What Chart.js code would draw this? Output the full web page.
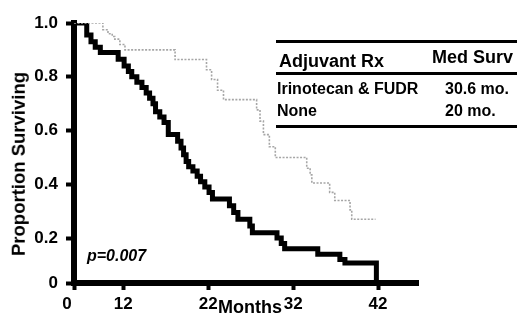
<!DOCTYPE html>
<html>
<head>
<meta charset="utf-8">
<title>Survival by adjuvant therapy</title>
<script src="https://cdn.jsdelivr.net/npm/chart.js@4.4.0/dist/chart.umd.min.js"></script>
<style>
    body { margin: 0; background: #fff; }
    #wrap { position: relative; width: 517px; height: 324px; font-family: Arial, "Liberation Sans", sans-serif; font-weight: bold; color: #000; }
    #survChart { position: absolute; left: 0; top: 0; }
    .rule { position: absolute; left: 276px; width: 241px; height: 3px; background: #000; }
    .txt { position: absolute; white-space: nowrap; line-height: 1; }
    #yTitle { left: 18.5px; top: 164px; font-size: 18.5px; transform: translate(-50%, -50%) rotate(-90deg); }
</style>
</head>
<body>
<div id="wrap">
    <canvas id="survChart" width="517" height="324"></canvas>

    <div class="rule" style="top: 40px;"></div>
    <div class="txt" style="left: 279px; top: 52px; font-size: 18px;">Adjuvant Rx</div>
    <div class="txt" style="left: 432px; top: 48px; font-size: 18px;">Med Surv</div>
    <div class="rule" style="top: 72px;"></div>
    <div class="txt" style="left: 277px; top: 81px; font-size: 16px;">Irinotecan &amp; FUDR</div>
    <div class="txt" style="left: 445px; top: 81px; font-size: 16px;">30.6 mo.</div>
    <div class="txt" style="left: 277px; top: 103px; font-size: 16px;">None</div>
    <div class="txt" style="left: 445px; top: 103px; font-size: 16px;">20 mo.</div>
    <div class="rule" style="top: 125px;"></div>

    <div class="txt" style="left: 87px; top: 248px; font-size: 16px; font-style: italic;">p=0.007</div>

    <!-- axis titles sit off-centre in the figure, so they are placed by hand -->
    <div class="txt" id="yTitle">Proportion Surviving</div>
    <div class="txt" style="left: 218px; top: 298px; font-size: 18px;">Months</div>
</div>

<script>
// --- Axis ticks (the origin is labelled 0 in the figure) ---
const xTickValues = [6.2, 12, 22, 32, 42];
const xTickLabels = ['0', '12', '22', '32', '42'];
const yTickValues = [0.033, 0.2, 0.4, 0.6, 0.8, 1.0];
const yTickLabels = ['0', '0.2', '0.4', '0.6', '0.8', '1.0'];

// --- Irinotecan & FUDR (grey dotted curve) ---
const rxMonths = [6.2, 9.6, 10.2, 10.7, 11.0, 11.6, 12.2, 18.1, 21.8, 22.4, 23.1, 23.8, 27.7, 28.1, 28.5, 29.2, 29.9, 33.6, 34.0, 34.2, 36.3, 36.9, 38.7, 38.9, 41.7];
const rxSurv = [1.0, 0.975, 0.96, 0.95, 0.94, 0.92, 0.90, 0.864, 0.826, 0.79, 0.75, 0.715, 0.677, 0.635, 0.585, 0.54, 0.50, 0.46, 0.435, 0.405, 0.37, 0.34, 0.305, 0.27, 0.27];

// --- No adjuvant therapy (black curve) ---
const noneMonths = [6.2, 7.7, 8.2, 8.7, 9.3, 11.4, 12.1, 12.6, 13.0, 13.6, 14.2, 14.7, 15.1, 15.5, 15.8, 16.3, 16.8, 17.3, 18.4, 18.8, 19.1, 19.4, 19.7, 20.2, 20.7, 21.1, 21.6, 22.1, 22.5, 24.5, 25.0, 25.5, 26.9, 27.2, 30.1, 30.6, 31.0, 34.9, 37.5, 38.1, 41.8];
const noneSurv = [1.0, 0.955, 0.93, 0.91, 0.89, 0.865, 0.84, 0.82, 0.80, 0.78, 0.76, 0.74, 0.72, 0.70, 0.67, 0.65, 0.63, 0.585, 0.56, 0.535, 0.51, 0.485, 0.465, 0.45, 0.43, 0.41, 0.39, 0.37, 0.345, 0.32, 0.295, 0.27, 0.245, 0.22, 0.2, 0.18, 0.16, 0.14, 0.12, 0.107, 0];

const toPoints = (xs, ys) => xs.map((x, i) => ({ x: x, y: ys[i] }));

Chart.defaults.font.family = 'Arial, "Liberation Sans", sans-serif';
Chart.defaults.font.weight = 'bold';
Chart.defaults.color = '#000';

new Chart(document.getElementById('survChart'), {
    type: 'line',
    data: {
        datasets: [
            {
                label: 'Irinotecan & FUDR',
                data: toPoints(rxMonths, rxSurv),
                stepped: true,
                borderColor: '#a6a6a6',
                borderWidth: 1.6,
                borderDash: [2, 1.5],
                pointRadius: 0,
                fill: false
            },
            {
                label: 'None',
                data: toPoints(noneMonths, noneSurv),
                stepped: true,
                borderColor: '#000',
                borderWidth: 5,
                borderJoinStyle: 'miter',
                pointRadius: 0,
                fill: false
            }
        ]
    },
    options: {
        responsive: false,
        animation: false,
        devicePixelRatio: 1,
        layout: { padding: { top: 23, right: 99, bottom: 0, left: 0 } },
        plugins: {
            legend: { display: false },
            tooltip: { enabled: false }
        },
        scales: {
            x: {
                type: 'linear',
                min: 6.2,
                max: 46.7,
                afterBuildTicks: (s) => { s.ticks = xTickValues.map(v => ({ value: v })); },
                afterFit: (s) => { s.height = 41; },
                ticks: {
                    autoSkip: false,
                    maxRotation: 0,
                    padding: 4,
                    font: { size: 17, weight: 'bold' },
                    color: '#000',
                    // the origin's "0" sits a little left of its tick in the figure
                    callback: (v, i) => i === 0 ? xTickLabels[i] + '   ' : xTickLabels[i]
                },
                grid: { drawOnChartArea: false, color: '#000', tickLength: 7, tickWidth: 4 },
                border: { color: '#000', width: 6 }
            },
            y: {
                min: 0.033,
                max: 1.0,
                afterBuildTicks: (s) => { s.ticks = yTickValues.map(v => ({ value: v })); },
                afterFit: (s) => { s.width = 74; },
                ticks: {
                    autoSkip: false,
                    padding: 8,
                    font: { size: 17, weight: 'bold' },
                    color: '#000',
                    callback: (v, i) => yTickLabels[i]
                },
                grid: { drawOnChartArea: false, color: '#000', tickLength: 8, tickWidth: 4 },
                border: { color: '#000', width: 6 }
            }
        }
    }
});
</script>
</body>
</html>
